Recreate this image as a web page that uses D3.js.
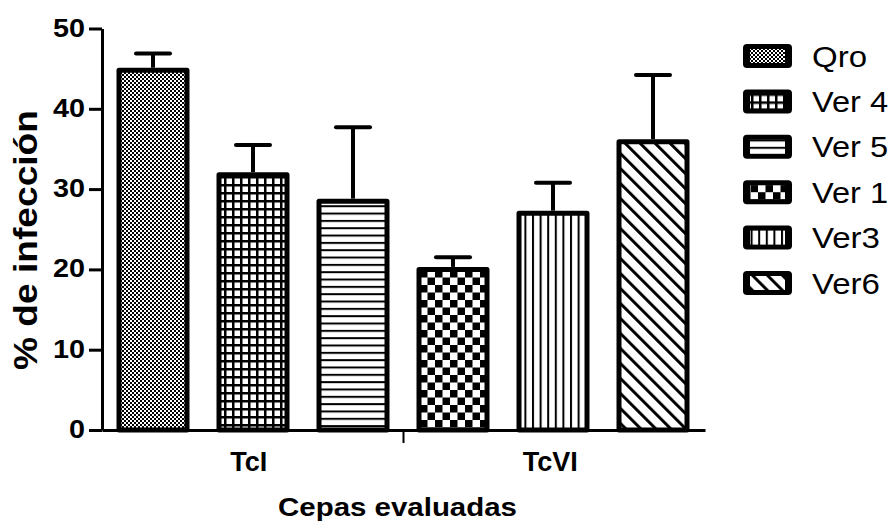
<!DOCTYPE html>
<html><head><meta charset="utf-8">
<script src="https://cdn.jsdelivr.net/npm/d3@7"></script>
<style>
html,body{margin:0;padding:0;background:#fff;}
svg{display:block;font-family:"Liberation Sans",Arial,sans-serif;}
</style></head>
<body>
<svg id="chart" width="895" height="523"></svg>
<script>
const categories = ["Qro", "Ver 4", "Ver 5", "Ver 1", "Ver3", "Ver6"];
const groups = ["TcI", "TcVI"];
const values = [44.8, 31.8, 28.5, 20.0, 27.0, 35.9];
const errors = [2.1, 3.7, 9.2, 1.5, 3.8, 8.3];
const yTicks = [0, 10, 20, 30, 40, 50];
const yTitle = "% de infección";
const xTitle = "Cepas evaluadas";

const svg = d3.select("#chart");
const defs = svg.append("defs");
const patIds = ["pFine", "pGrid", "pH", "pCoarse", "pV", "pDiag"];

function pat(id, w, h, tr) {
  const p = defs.append("pattern").attr("id", id).attr("patternUnits", "userSpaceOnUse")
    .attr("width", w).attr("height", h);
  if (tr) p.attr("patternTransform", tr);
  p.append("rect").attr("width", w).attr("height", h).attr("fill", "#fff");
  return p;
}
let p;
p = pat("pFine", 4, 4);
p.append("rect").attr("x", 0).attr("y", 0).attr("width", 2).attr("height", 2).attr("fill", "#000");
p.append("rect").attr("x", 2).attr("y", 2).attr("width", 2).attr("height", 2).attr("fill", "#000");
p = pat("pGrid", 8, 8);
p.append("rect").attr("width", 8).attr("height", 2.5).attr("fill", "#000");
p.append("rect").attr("width", 2.5).attr("height", 8).attr("fill", "#000");
p = pat("pH", 8, 7.33);
p.append("rect").attr("width", 8).attr("height", 2).attr("fill", "#000");
p = pat("pCoarse", 15, 15);
p.append("rect").attr("width", 7.5).attr("height", 7.5).attr("fill", "#000");
p.append("rect").attr("x", 7.5).attr("y", 7.5).attr("width", 7.5).attr("height", 7.5).attr("fill", "#000");
p = pat("pV", 7.6, 8);
p.append("rect").attr("width", 2).attr("height", 8).attr("fill", "#000");
p = pat("pDiag", 10.6, 10, "rotate(-45)");
p.append("rect").attr("width", 3).attr("height", 10).attr("fill", "#000");

const y = d3.scaleLinear().domain([0, 50]).range([430, 28.5]);
const x = d3.scaleBand().domain(categories).range([103, 703]).paddingInner(0.27).paddingOuter(0.135);
const gx = d3.scaleBand().domain(groups).range([102, 705]);

const sw = 5;
// bars
svg.append("g").selectAll("rect").data(categories).join("rect")
  .attr("x", d => x(d) + sw / 2)
  .attr("width", x.bandwidth() - sw)
  .attr("y", (d, i) => y(values[i]))
  .attr("height", (d, i) => y(0) - y(values[i]))
  .attr("fill", (d, i) => `url(#${patIds[i]})`)
  .attr("stroke", "#000").attr("stroke-width", sw).attr("stroke-linejoin", "round");

// error bars
const eb = svg.append("g").attr("stroke", "#000").attr("stroke-width", 4);
eb.selectAll("line.stem").data(categories).join("line").attr("class", "stem")
  .attr("x1", d => x(d) + x.bandwidth() / 2).attr("x2", d => x(d) + x.bandwidth() / 2)
  .attr("y1", (d, i) => y(values[i]) - sw / 2).attr("y2", (d, i) => y(values[i] + errors[i]));
eb.selectAll("line.cap").data(categories).join("line").attr("class", "cap")
  .attr("stroke-linecap", "round")
  .attr("x1", d => x(d) + x.bandwidth() / 2 - 17).attr("x2", d => x(d) + x.bandwidth() / 2 + 17)
  .attr("y1", (d, i) => y(values[i] + errors[i])).attr("y2", (d, i) => y(values[i] + errors[i]));

// y axis
const ya = svg.append("g").attr("transform", "translate(102,0)")
  .call(d3.axisLeft(y).tickValues(yTicks).tickSize(13).tickSizeOuter(0).tickPadding(4));
ya.select(".domain").attr("stroke-width", 3);
ya.selectAll(".tick line").attr("stroke-width", 3);
ya.selectAll(".tick text").attr("font-size", 25).attr("font-weight", "bold")
  .attr("font-family", "Liberation Sans, Arial, sans-serif").attr("fill", "#000")
  .attr("dy", "0.3em")
  .attr("textLength", d => String(d).length * 16).attr("lengthAdjust", "spacingAndGlyphs");

// x axis
const xa = svg.append("g").attr("transform", "translate(0,430)")
  .call(d3.axisBottom(gx).tickSize(0).tickSizeOuter(0).tickPadding(22));
xa.select(".domain").attr("stroke-width", 3);
xa.selectAll(".tick text").attr("font-size", 27).attr("font-weight", "bold")
  .attr("font-family", "Liberation Sans, Arial, sans-serif").attr("fill", "#000").attr("dx", -4);
xa.append("line").attr("x1", gx("TcVI")).attr("x2", gx("TcVI")).attr("y1", 0).attr("y2", 13)
  .attr("stroke", "#000").attr("stroke-width", 2);

// titles
svg.append("text").attr("transform", "translate(37,240) rotate(-90)")
  .attr("text-anchor", "middle").attr("font-size", 33).attr("font-weight", "bold")
  .attr("textLength", 260).attr("lengthAdjust", "spacingAndGlyphs").text(yTitle);
svg.append("text").attr("x", 397.5).attr("y", 516)
  .attr("text-anchor", "middle").attr("font-size", 26).attr("font-weight", "bold")
  .attr("textLength", 239).attr("lengthAdjust", "spacingAndGlyphs").text(xTitle);

// legend
const leg = svg.append("g").selectAll("g").data(categories).join("g")
  .attr("transform", (d, i) => `translate(743,${56 + 45.4 * i})`);
leg.append("rect").attr("x", 0).attr("y", -12).attr("width", 49).attr("height", 24).attr("rx", 4).attr("fill", "#000");
leg.append("rect").attr("x", 7).attr("y", -7).attr("width", 35).attr("height", 14)
  .attr("fill", (d, i) => `url(#${patIds[i]})`);
leg.append("text").attr("x", 69).attr("y", 10.5).attr("font-size", 30)
  .attr("textLength", d => d === "Qro" ? 55 : (d.includes(" ") ? 76 : 68)).attr("lengthAdjust", "spacingAndGlyphs")
  .text(d => d);
</script>
</body></html>
